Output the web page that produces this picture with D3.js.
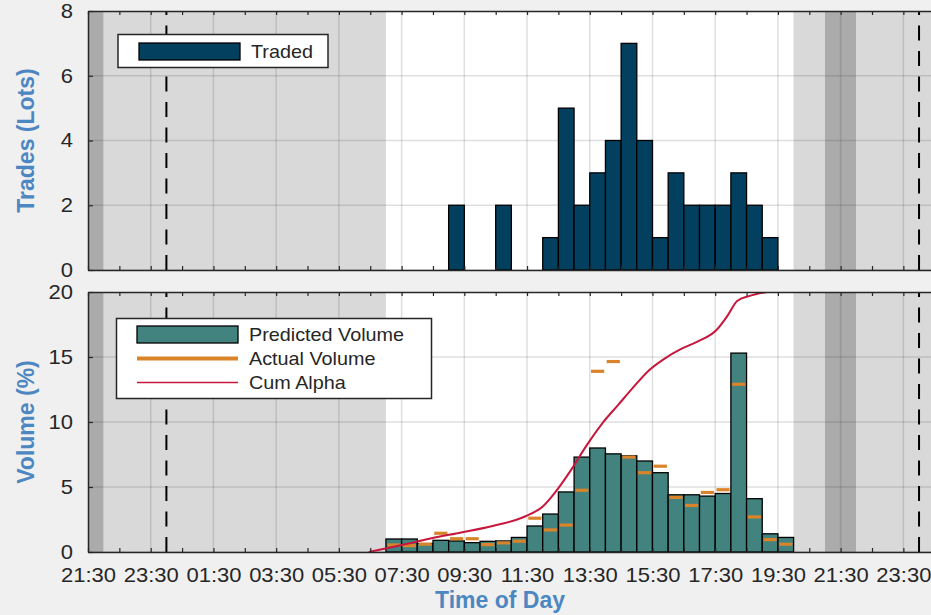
<!DOCTYPE html>
<html>
<head>
<meta charset="utf-8">
<title>Trades and volume by time of day</title>
<script src="https://cdn.jsdelivr.net/npm/d3@7"></script>
<style>
  body { margin: 0; background: #f0f0f0; }
  svg { display: block; font-family: "Liberation Sans", Arial, sans-serif; }
  .wide { transform-box: fill-box; transform: scaleX(1.1); }
  .tick line { stroke: #262626; }
  .domain { stroke: #262626; stroke-width: 1.5; }
</style>
</head>
<body>
<svg id="chart" width="931" height="615"></svg>
<script>
// hours are counted from midnight of the trade date (negative = previous evening)
var tradeHour = [9, 10.5, 12, 12.5, 13, 13.5, 14, 14.5, 15, 15.5, 16, 16.5, 17, 17.5, 18, 18.5, 19];
var tradeLots = [2, 2, 1, 5, 2, 3, 4, 7, 4, 1, 3, 2, 2, 2, 3, 2, 1];

var binHour = [7, 7.5, 8, 8.5, 9, 9.5, 10, 10.5, 11, 11.5, 12, 12.5, 13,
  13.5, 14, 14.5, 15, 15.5, 16, 16.5, 17, 17.5, 18, 18.5, 19, 19.5];
var predicted = [1.0, 1.0, 0.65, 0.9, 0.85, 0.72, 0.82, 0.85, 1.12, 2.0, 2.92, 4.62, 7.3,
  8.0, 7.55, 7.4, 7.0, 6.1, 4.4, 4.4, 4.3, 4.5, 15.3, 4.1, 1.4, 1.12];
var actual = [0.54, 0.49, 0.6, 1.44, 1.02, 1.02, 0.57, 0.7, 0.83, 2.6, 1.7, 2.07, 4.75,
  13.9, 14.65, 7.3, 6.1, 6.6, 4.2, 3.58, 4.58, 4.79, 12.9, 2.7, 0.95, 0.6];

var alphaHour = [6.45, 7.25, 7.9, 8.45, 9.4, 10.4, 11.45, 12.0, 12.4, 12.9, 13.4, 13.9,
  14.4, 14.9, 15.4, 15.9, 16.4, 16.95, 17.55, 17.9, 18.2, 18.6, 19.15];
var alphaCum = [0, 0.4, 0.75, 1.05, 1.5, 2.0, 2.75, 3.5, 4.6, 6.3, 8.2, 9.9,
  11.3, 12.7, 14.0, 14.9, 15.6, 16.2, 17.1, 18.2, 19.3, 19.7, 20.0];

// market sessions: closed (dark), pre/post (light), open (white)
var sessionFrom = [-3, -2, 7, 20, 21, 22];
var sessionTo = [-2, 7, 20, 21, 22, 27];
var sessionKind = ['closed', 'pre', 'open', 'pre', 'closed', 'pre'];
var dayBreaks = [0, 24];

var tradeTicks = [0, 2, 4, 6, 8];
var volumeTicks = [0, 5, 10, 15, 20];

var binWidth = 0.5;
var sessionFill = { closed: '#ababab', pre: '#d9d9d9', open: '#ffffff' };

var svg = d3.select('#chart');
var left = 88, pxPerHour = 31.36;
var x = d3.scaleLinear().domain([-2.5, 24.5]).range([left, left + 27 * pxPerHour]);

var hourTicks = d3.range(-2.5, 24.6, 1);
var majorTicks = hourTicks.filter(function (h, i) { return i % 2 === 0; });

function fmt(h) {
  var m = Math.round((((h % 24) + 24) % 24) * 60);
  return d3.format('02')(Math.floor(m / 60)) + ':' + d3.format('02')(m % 60);
}

svg.append('defs').selectAll('clipPath')
  .data([['clip-top', 11, 270], ['clip-bot', 292, 552]])
  .enter().append('clipPath').attr('id', function (d) { return d[0]; })
  .append('rect')
    .attr('x', left).attr('width', 931 - left)
    .attr('y', function (d) { return d[1]; })
    .attr('height', function (d) { return d[2] - d[1]; });

function panel(clipId, y, yTicks, showLabels) {
  var g = svg.append('g');
  var plot = g.append('g').attr('clip-path', 'url(#' + clipId + ')');
  var y0 = y.range()[0], y1 = y.range()[1];

  plot.selectAll('rect.band').data(sessionKind).enter().append('rect')
    .attr('class', 'band')
    .attr('x', function (d, i) { return x(sessionFrom[i]); })
    .attr('width', function (d, i) { return x(sessionTo[i]) - x(sessionFrom[i]); })
    .attr('y', y1).attr('height', y0 - y1)
    .attr('fill', function (d) { return sessionFill[d]; });

  plot.selectAll('line.vgrid').data(majorTicks).enter().append('line')
    .attr('x1', x).attr('x2', x).attr('y1', y0).attr('y2', y1)
    .attr('stroke', '#262626').attr('stroke-opacity', 0.15).attr('stroke-width', 1.5);
  plot.selectAll('line.hgrid').data(yTicks).enter().append('line')
    .attr('x1', left).attr('x2', 931).attr('y1', y).attr('y2', y)
    .attr('stroke', '#262626').attr('stroke-opacity', 0.15).attr('stroke-width', 1.5);

  // day change markers
  plot.selectAll('path.day').data(dayBreaks).enter().append('path')
    .attr('d', function (d) { return 'M' + x(d) + ',' + y0 + 'V' + y1; })
    .attr('stroke', '#000').attr('stroke-width', 2)
    .attr('stroke-dasharray', '15,10.5');

  var bottom = g.append('g').attr('transform', 'translate(0,' + y0 + ')')
    .call(d3.axisBottom(x).tickValues(hourTicks).tickSize(-4).tickSizeOuter(0)
      .tickPadding(16)
      .tickFormat(function (h) { return showLabels && majorTicks.indexOf(h) >= 0 ? fmt(h) : ''; }));
  g.append('g').attr('transform', 'translate(0,' + y1 + ')')
    .call(d3.axisTop(x).tickValues(hourTicks).tickSize(-4).tickSizeOuter(0).tickFormat(''));
  var yAxis = g.append('g').attr('transform', 'translate(' + left + ',0)')
    .call(d3.axisLeft(y).tickValues(yTicks).tickSize(-5).tickSizeOuter(0).tickPadding(15));

  g.selectAll('.tick text').attr('font-size', 20).attr('fill', '#262626')
    .attr('font-family', '"Liberation Sans", Arial, sans-serif')
    .attr('class', 'wide');
  bottom.selectAll('.tick text').style('transform-origin', 'center');
  yAxis.selectAll('.tick text').style('transform-origin', 'right center');
  g.selectAll('.tick line').attr('stroke-width', 1.2);
  return { plot: plot, axes: g };
}

// ---- top panel: traded lots
var yTop = d3.scaleLinear().domain([0, 8]).range([270, 11]);
var topPanel = panel('clip-top', yTop, tradeTicks, false);
topPanel.plot.selectAll('rect.trade').data(tradeLots).enter().append('rect')
  .attr('x', function (d, i) { return x(tradeHour[i]); })
  .attr('width', function (d, i) { return x(tradeHour[i] + binWidth) - x(tradeHour[i]); })
  .attr('y', function (d) { return yTop(d); })
  .attr('height', function (d) { return yTop(0) - yTop(d); })
  .attr('fill', '#03405f').attr('stroke', '#000').attr('stroke-width', 1.3);

// ---- bottom panel: volume
var yBot = d3.scaleLinear().domain([0, 20]).range([552, 292]);
var botPanel = panel('clip-bot', yBot, volumeTicks, true);
var bot = botPanel.plot;
bot.selectAll('rect.pred').data(predicted).enter().append('rect')
  .attr('x', function (d, i) { return x(binHour[i]); })
  .attr('width', function (d, i) { return x(binHour[i] + binWidth) - x(binHour[i]); })
  .attr('y', function (d) { return yBot(d); })
  .attr('height', function (d) { return yBot(0) - yBot(d); })
  .attr('fill', '#42837f').attr('stroke', '#000').attr('stroke-width', 1.3);

bot.selectAll('line.act').data(actual).enter().append('line')
  .attr('x1', function (d, i) { return x(binHour[i] + 0.04); })
  .attr('x2', function (d, i) { return x(binHour[i] + binWidth - 0.04); })
  .attr('y1', function (d) { return yBot(d); })
  .attr('y2', function (d) { return yBot(d); })
  .attr('stroke', '#d9832a').attr('stroke-width', 3.2);

var alphaLine = d3.line()
  .x(function (d, i) { return x(alphaHour[i]); })
  .y(function (d) { return yBot(d); })
  .curve(d3.curveMonotoneX);
bot.append('path').attr('d', alphaLine(alphaCum))
  .attr('fill', 'none').attr('stroke', '#c8173c').attr('stroke-width', 2);

// axes drawn over the marks
[topPanel, botPanel].forEach(function (p) { p.axes.selectAll(':scope > g:not([clip-path])').raise(); });

// ---- legends
function legendText(g, tx, ty, label) {
  g.append('text').attr('x', tx).attr('y', ty).text(label)
    .attr('font-size', 18).attr('fill', '#262626').attr('class', 'wide')
    .style('transform-origin', 'left center');
}
var lg1 = svg.append('g');
lg1.append('rect').attr('x', 118).attr('y', 34.5).attr('width', 210).attr('height', 33)
  .attr('fill', '#fff').attr('stroke', '#262626').attr('stroke-width', 1.5);
lg1.append('rect').attr('x', 139).attr('y', 43).attr('width', 101).attr('height', 17)
  .attr('fill', '#03405f').attr('stroke', '#000').attr('stroke-width', 1.3);
legendText(lg1, 251, 58.5, 'Traded');

var lg2 = svg.append('g');
lg2.append('rect').attr('x', 116.5).attr('y', 318.5).attr('width', 315).attr('height', 80)
  .attr('fill', '#fff').attr('stroke', '#262626').attr('stroke-width', 1.5);
lg2.append('rect').attr('x', 137).attr('y', 326).attr('width', 101).attr('height', 17)
  .attr('fill', '#42837f').attr('stroke', '#000').attr('stroke-width', 1.3);
lg2.append('line').attr('x1', 137).attr('x2', 238).attr('y1', 358.5).attr('y2', 358.5)
  .attr('stroke', '#d9832a').attr('stroke-width', 4);
lg2.append('line').attr('x1', 137).attr('x2', 238).attr('y1', 382.5).attr('y2', 382.5)
  .attr('stroke', '#c8173c').attr('stroke-width', 1.3);
legendText(lg2, 249, 341.5, 'Predicted Volume');
legendText(lg2, 249, 365.5, 'Actual Volume');
legendText(lg2, 249, 389.5, 'Cum Alpha');

// ---- axis titles
var titleColor = '#4d87c1';
svg.append('text').attr('transform', 'translate(34,140.5) rotate(-90)')
  .attr('text-anchor', 'middle').attr('font-size', 23).attr('font-weight', 'bold')
  .attr('fill', titleColor).text('Trades (Lots)');
svg.append('text').attr('transform', 'translate(34,422) rotate(-90)')
  .attr('text-anchor', 'middle').attr('font-size', 23).attr('font-weight', 'bold')
  .attr('fill', titleColor).text('Volume (%)');
svg.append('text').attr('x', 500).attr('y', 608)
  .attr('text-anchor', 'middle').attr('font-size', 23).attr('font-weight', 'bold')
  .attr('fill', titleColor).text('Time of Day');
</script>
</body>
</html>
